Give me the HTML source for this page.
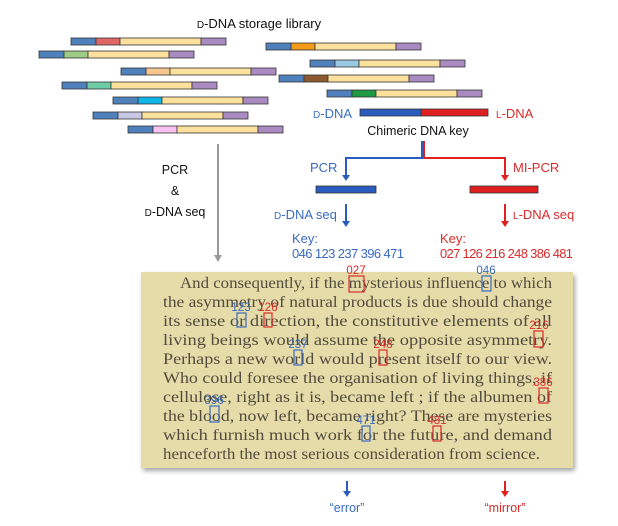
<!DOCTYPE html>
<html><head><meta charset="utf-8"><style>
html,body{margin:0;padding:0;background:#fff}
svg{display:block}
.s{font-family:"Liberation Sans",sans-serif}
.p{font-family:"Liberation Serif",serif;font-size:15.5px;fill:#524c3c}
</style></head><body>
<svg width="618" height="526" viewBox="0 0 618 526" xmlns="http://www.w3.org/2000/svg">
<defs>
<filter id="sh" x="-5%" y="-5%" width="112%" height="115%"><feDropShadow dx="2" dy="3" stdDeviation="2.5" flood-color="#000" flood-opacity="0.35"/></filter>
</defs>
<text x="259" y="28" class="s" font-size="13" text-anchor="middle" fill="#111"><tspan font-size="10">D</tspan>-DNA storage library</text>
<g stroke="#333" stroke-width="0.8">
<g transform="translate(71,38)"><rect width="25" height="7" fill="#4f81bd"/><rect x="25" width="24" height="7" fill="#e06666"/><rect x="49" width="81" height="7" fill="#fbe19c"/><rect x="130" width="25" height="7" fill="#a98bc2"/></g>
<g transform="translate(39,51)"><rect width="25" height="7" fill="#4f81bd"/><rect x="25" width="24" height="7" fill="#9fcb86"/><rect x="49" width="81" height="7" fill="#fbe19c"/><rect x="130" width="25" height="7" fill="#a98bc2"/></g>
<g transform="translate(121,68)"><rect width="25" height="7" fill="#4f81bd"/><rect x="25" width="24" height="7" fill="#f7c68d"/><rect x="49" width="81" height="7" fill="#fbe19c"/><rect x="130" width="25" height="7" fill="#a98bc2"/></g>
<g transform="translate(62,82)"><rect width="25" height="7" fill="#4f81bd"/><rect x="25" width="24" height="7" fill="#6dcba6"/><rect x="49" width="81" height="7" fill="#fbe19c"/><rect x="130" width="25" height="7" fill="#a98bc2"/></g>
<g transform="translate(113,97)"><rect width="25" height="7" fill="#4f81bd"/><rect x="25" width="24" height="7" fill="#10b4e6"/><rect x="49" width="81" height="7" fill="#fbe19c"/><rect x="130" width="25" height="7" fill="#a98bc2"/></g>
<g transform="translate(93,112)"><rect width="25" height="7" fill="#4f81bd"/><rect x="25" width="24" height="7" fill="#c8c8e4"/><rect x="49" width="81" height="7" fill="#fbe19c"/><rect x="130" width="25" height="7" fill="#a98bc2"/></g>
<g transform="translate(128,126)"><rect width="25" height="7" fill="#4f81bd"/><rect x="25" width="24" height="7" fill="#f9c0f0"/><rect x="49" width="81" height="7" fill="#fbe19c"/><rect x="130" width="25" height="7" fill="#a98bc2"/></g>
<g transform="translate(266,43)"><rect width="25" height="7" fill="#4f81bd"/><rect x="25" width="24" height="7" fill="#f39a1a"/><rect x="49" width="81" height="7" fill="#fbe19c"/><rect x="130" width="25" height="7" fill="#a98bc2"/></g>
<g transform="translate(310,60)"><rect width="25" height="7" fill="#4f81bd"/><rect x="25" width="24" height="7" fill="#9cc9e2"/><rect x="49" width="81" height="7" fill="#fbe19c"/><rect x="130" width="25" height="7" fill="#a98bc2"/></g>
<g transform="translate(279,75)"><rect width="25" height="7" fill="#4f81bd"/><rect x="25" width="24" height="7" fill="#8c5a2e"/><rect x="49" width="81" height="7" fill="#fbe19c"/><rect x="130" width="25" height="7" fill="#a98bc2"/></g>
<g transform="translate(327,90)"><rect width="25" height="7" fill="#4f81bd"/><rect x="25" width="24" height="7" fill="#1e9a44"/><rect x="49" width="81" height="7" fill="#fbe19c"/><rect x="130" width="25" height="7" fill="#a98bc2"/></g>
<rect x="360" y="109" width="61" height="7" fill="#2a5cc0"/><rect x="421" y="109" width="67" height="7" fill="#e02020"/>
<rect x="316" y="186" width="60" height="7" fill="#2a5cc0"/><rect x="470" y="186" width="68" height="7" fill="#e02020"/>
</g>
<text x="313" y="118" class="s" font-size="13" fill="#3a6bc0"><tspan font-size="10">D</tspan>-DNA</text>
<text x="496" y="118" class="s" font-size="13" fill="#d92b2b"><tspan font-size="10">L</tspan>-DNA</text>
<text x="418" y="135" class="s" font-size="12.5" text-anchor="middle" fill="#111">Chimeric DNA key</text>
<path d="M422,141 V158 H346 V176" fill="none" stroke="#2a5cc0" stroke-width="2"/>
<path d="M424,141 V158 H505 V176" fill="none" stroke="#e02020" stroke-width="2"/>
<path d="M342,175 L346,181 L350,175Z" fill="#2a5cc0"/><path d="M501,175 L505,181 L509,175Z" fill="#e02020"/>
<text x="310" y="172" class="s" font-size="13" fill="#3a6bc0">PCR</text>
<text x="513" y="172" class="s" font-size="13" fill="#d92b2b">MI-PCR</text>
<line x1="346" y1="204" x2="346" y2="222" stroke="#2a5cc0" stroke-width="2"/><path d="M342,221 L346,227 L350,221Z" fill="#2a5cc0"/>
<line x1="505" y1="204" x2="505" y2="222" stroke="#e02020" stroke-width="2"/><path d="M501,221 L505,227 L509,221Z" fill="#e02020"/>
<text x="274" y="219" class="s" font-size="13" fill="#3a6bc0"><tspan font-size="10">D</tspan>-DNA seq</text>
<text x="513" y="219" class="s" font-size="13" fill="#d92b2b"><tspan font-size="10">L</tspan>-DNA seq</text>
<text x="292" y="243" class="s" font-size="13" fill="#3a6bc0">Key:</text>
<text x="292" y="258" class="s" font-size="13" fill="#3a6bc0" textLength="112">046 123 237 396 471</text>
<text x="440" y="243" class="s" font-size="13" fill="#d92b2b">Key:</text>
<text x="440" y="258" class="s" font-size="13" fill="#d92b2b" textLength="133">027 126 216 248 386 481</text>
<text x="175" y="174" class="s" font-size="12.5" text-anchor="middle" fill="#111">PCR</text>
<text x="175" y="195" class="s" font-size="12.5" text-anchor="middle" fill="#111">&amp;</text>
<text x="175" y="216" class="s" font-size="12.5" text-anchor="middle" fill="#111"><tspan font-size="10">D</tspan>-DNA seq</text>
<line x1="218" y1="144" x2="218" y2="256" stroke="#999" stroke-width="2"/><path d="M214,255 L218,262 L222,255Z" fill="#999"/>
<rect x="141" y="272" width="432" height="196" fill="#e6dcaa" filter="url(#sh)"/>
<g class="p">
<text x="180" y="288" textLength="372" lengthAdjust="spacingAndGlyphs">And consequently, if the mysterious influence to which</text>
<text x="163" y="307" textLength="389" lengthAdjust="spacingAndGlyphs">the asymmetry of natural products is due should change</text>
<text x="163" y="326" textLength="389" lengthAdjust="spacingAndGlyphs">its sense or direction, the constitutive elements of all</text>
<text x="163" y="345" textLength="389" lengthAdjust="spacingAndGlyphs">living beings would assume the opposite asymmetry.</text>
<text x="163" y="364" textLength="389" lengthAdjust="spacingAndGlyphs">Perhaps a new world would present itself to our view.</text>
<text x="163" y="383" textLength="389" lengthAdjust="spacingAndGlyphs">Who could foresee the organisation of living things, if</text>
<text x="163" y="402" textLength="389" lengthAdjust="spacingAndGlyphs">cellulose, right as it is, became left ; if the albumen of</text>
<text x="163" y="421" textLength="389" lengthAdjust="spacingAndGlyphs">the blood, now left, became right?  These are mysteries</text>
<text x="163" y="440" textLength="389" lengthAdjust="spacingAndGlyphs">which furnish much work for the future, and demand</text>
<text x="163" y="459" textLength="377" lengthAdjust="spacingAndGlyphs">henceforth the most serious consideration from science.</text>
</g>
<g fill="none" stroke-width="1.2">
<rect x="349" y="276" width="15" height="16" stroke="#d92b2b"/>
<rect x="482" y="276" width="9" height="15" stroke="#3a6bc0"/>
<rect x="237" y="313" width="9" height="14" stroke="#3a6bc0"/>
<rect x="264" y="313" width="8" height="14" stroke="#d92b2b"/>
<rect x="534" y="331" width="9" height="16" stroke="#d92b2b"/>
<rect x="294" y="350" width="8" height="15" stroke="#3a6bc0"/>
<rect x="379" y="350" width="8" height="15" stroke="#d92b2b"/>
<rect x="539" y="388" width="9" height="15" stroke="#d92b2b"/>
<rect x="210" y="406" width="9" height="16" stroke="#3a6bc0"/>
<rect x="362" y="426" width="8" height="15" stroke="#3a6bc0"/>
<rect x="433" y="426" width="8" height="15" stroke="#d92b2b"/>
</g>
<g class="s" font-size="11.5" text-anchor="middle">
<text x="356" y="274" fill="#d92b2b">027</text>
<text x="486" y="274" fill="#3a6bc0">046</text>
<text x="241" y="311" fill="#3a6bc0">123</text>
<text x="268" y="311" fill="#d92b2b">126</text>
<text x="539" y="329" fill="#d92b2b">216</text>
<text x="298" y="348" fill="#3a6bc0">237</text>
<text x="383" y="348" fill="#d92b2b">248</text>
<text x="543" y="386" fill="#d92b2b">386</text>
<text x="214" y="404" fill="#3a6bc0">396</text>
<text x="366" y="424" fill="#3a6bc0">471</text>
<text x="437" y="424" fill="#d92b2b">481</text>
</g>
<line x1="347" y1="481" x2="347" y2="492" stroke="#2a5cc0" stroke-width="2"/><path d="M343,491 L347,497 L351,491Z" fill="#2a5cc0"/>
<line x1="505" y1="481" x2="505" y2="492" stroke="#e02020" stroke-width="2"/><path d="M501,491 L505,497 L509,491Z" fill="#e02020"/>
<text x="347" y="512" class="s" font-size="12.5" text-anchor="middle" fill="#3a6bc0">“error”</text>
<text x="505" y="512" class="s" font-size="12.5" text-anchor="middle" fill="#d92b2b">“mirror”</text>
</svg>
</body></html>
